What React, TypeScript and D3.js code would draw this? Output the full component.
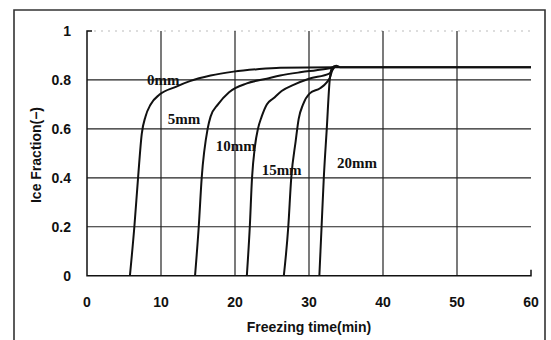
import * as d3 from "d3";

// freezing time (min), ice fraction (-)
const series0mm: [number, number][] = [[5.8, 0], [6.4, 0.2], [6.9, 0.4], [7.4, 0.58], [7.9, 0.65], [8.6, 0.7], [9.8, 0.74], [12, 0.772], [13.9, 0.795], [16.7, 0.818], [19.8, 0.834], [23, 0.844], [26.1, 0.85], [33.5, 0.852], [60, 0.852]];
const series5mm: [number, number][] = [[14.6, 0], [15.1, 0.2], [15.5, 0.4], [16.3, 0.6], [16.7, 0.65], [17.7, 0.7], [19.2, 0.75], [21.6, 0.786], [24.3, 0.805], [26.1, 0.818], [29, 0.832], [31, 0.84], [32.8, 0.848], [33.5, 0.852]];
const series10mm: [number, number][] = [[21.6, 0], [22, 0.2], [22.3, 0.4], [22.7, 0.53], [23.1, 0.6], [23.6, 0.65], [24.3, 0.7], [25.2, 0.725], [26.3, 0.755], [27.9, 0.78], [30, 0.805], [32.8, 0.827], [33.4, 0.852]];
const series15mm: [number, number][] = [[26.6, 0], [27.2, 0.2], [27.6, 0.4], [28.2, 0.55], [28.6, 0.64], [29.2, 0.7], [30.1, 0.745], [31.5, 0.766], [32.4, 0.79], [32.9, 0.815], [33.2, 0.852]];
const series20mm: [number, number][] = [[31.4, 0], [31.7, 0.2], [32, 0.4], [32.4, 0.6], [32.8, 0.8], [33.1, 0.85], [33.7, 0.858], [34.2, 0.852], [60, 0.852]];

const seriesNames = ["0mm", "5mm", "10mm", "15mm", "20mm"];
// where each name sits (time, fraction)
const labelPos: [number, number][] = [[8.1, 0.78], [10.9, 0.62], [17.4, 0.51], [23.6, 0.41], [33.8, 0.44]];

const xTicks = [0, 10, 20, 30, 40, 50, 60];
const yTicks = [0, 0.2, 0.4, 0.6, 0.8, 1];

const W = 551, H = 340;
const sans = "Liberation Sans, Arial, sans-serif";
const serif = "Liberation Serif, Times New Roman, serif";

export default function App() {
  const x = d3.scaleLinear().domain([0, 60]).range([87, 531]);
  const y = d3.scaleLinear().domain([0, 1]).range([275.7, 31]);
  const line = d3.line<[number, number]>()
    .x(d => x(d[0]))
    .y(d => y(d[1]))
    .curve(d3.curveMonotoneX);

  const all = [series0mm, series5mm, series10mm, series15mm, series20mm];

  return (
    <svg width={W} height={H} style={{ position: "absolute", left: 0, top: 0, background: "#fff" }}>
      {/* outer frame */}
      <path d={`M14,${H + 2}V10H545V${H + 2}`} fill="none" stroke="#333" strokeWidth={1.6} />

      {/* gridlines */}
      {yTicks.filter(t => t > 0 && t < 1).map(t => (
        <line key={"h" + t} x1={x(0)} x2={x(60)} y1={y(t)} y2={y(t)} stroke="#222" strokeWidth={1.2} />
      ))}
      <line x1={x(0)} x2={x(60)} y1={y(1)} y2={y(1)} stroke="#bbb" strokeWidth={1} strokeDasharray="2,5" />
      {xTicks.filter(t => t > 0 && t < 60).map(t => (
        <line key={"v" + t} x1={x(t)} x2={x(t)} y1={y(1)} y2={y(0)} stroke="#222" strokeWidth={1.2} />
      ))}

      {/* axes */}
      <path d={`M${x(0) + 5},${y(1)}H${x(0)}V${y(0)}H${x(60)}V${y(0) - 6}`} fill="none" stroke="#111" strokeWidth={1.5} />

      {/* curves */}
      {all.map((s, i) => (
        <path key={i} d={line(s) || ""} fill="none" stroke="#111" strokeWidth={2} />
      ))}

      {/* series names */}
      {seriesNames.map((n, i) => (
        <text key={n} x={x(labelPos[i][0])} y={y(labelPos[i][1])} fontFamily={serif} fontSize={15} fontWeight="bold" fill="#111">{n}</text>
      ))}

      {/* tick labels */}
      {yTicks.map(t => (
        <text key={"yl" + t} x={71} y={y(t) + 5} textAnchor="end" fontFamily={sans} fontSize={14} fontWeight="bold" fill="#111">{t}</text>
      ))}
      {xTicks.map(t => (
        <text key={"xl" + t} x={x(t)} y={307} textAnchor="middle" fontFamily={sans} fontSize={14} fontWeight="bold" fill="#111">{t}</text>
      ))}

      {/* axis titles */}
      <text x={309} y={332} textAnchor="middle" fontFamily={sans} fontSize={14} fontWeight="bold" fill="#111">Freezing time(min)</text>
      <text transform={`translate(41,155) rotate(-90)`} textAnchor="middle" fontFamily={sans} fontSize={14} fontWeight="bold" fill="#111">Ice Fraction(−)</text>
    </svg>
  );
}
